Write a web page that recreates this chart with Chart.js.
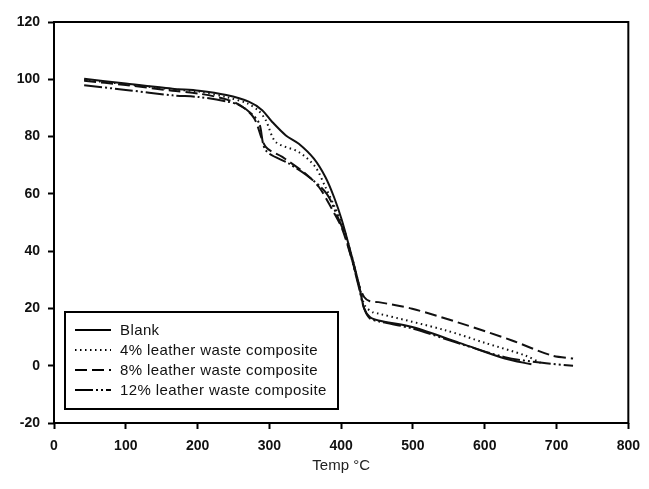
<!DOCTYPE html>
<html>
<head>
<meta charset="utf-8">
<script src="https://cdn.jsdelivr.net/npm/chart.js@4.4.0/dist/chart.umd.min.js"></script>
<style>
  html, body { margin: 0; padding: 0; background: #fff; }
  #wrap { width: 649px; height: 489px; }
</style>
</head>
<body>
<div id="wrap"><canvas id="myChart" width="649" height="489"></canvas></div>
<script>
// TGA curves (temperature in C, weight in %)
let blankT = [42, 100, 165, 202, 240, 272, 290, 304, 323, 341, 362, 378, 390, 401, 415, 425, 432, 440, 452, 499, 568, 628, 665];
let blankW = [100.2, 98.5, 96.7, 96, 94.5, 92.1, 89.2, 85.1, 80.4, 77.5, 72.3, 65.9, 58.9, 50.8, 38, 28, 20, 17, 15.8, 13.5, 7.7, 2.5, 0.5];

let lw4T = [42, 100, 165, 202, 240, 270, 285, 295, 309, 341, 364, 378, 390, 401, 415, 425, 433, 445, 452, 545, 600, 656, 678];
let lw4W = [99.8, 98.3, 96.5, 95.7, 93.8, 91.5, 89, 85.7, 78.1, 74.6, 69.4, 62.4, 56, 50, 38, 28, 21, 18.5, 18.2, 12.4, 8, 3.6, 1];

let lw8T = [42, 100, 165, 202, 240, 262, 279, 295, 318, 350, 369, 388, 401, 415, 425, 432, 440, 452, 499, 568, 637, 693, 723];
let lw8W = [99.5, 98, 96, 95, 93, 90.5, 86.3, 76.4, 72.9, 67.1, 62.4, 54.3, 48, 37, 28, 24, 22.5, 22.2, 19.9, 14.7, 8.9, 3.6, 2.5];

let lw12T = [42, 100, 165, 202, 240, 258, 275, 286, 295, 327, 355, 380, 395, 405, 415, 425, 432, 440, 452, 499, 568, 628, 680, 723];
let lw12W = [97.9, 96.3, 94.4, 93.8, 92.3, 91, 88, 84.5, 75.2, 70.6, 65.9, 60, 52, 46, 37, 27, 20, 16.5, 15.5, 13, 7.5, 3, 1, 0];

let seriesNames = ["Blank", "4% leather waste composite", "8% leather waste composite", "12% leather waste composite"];
let xTicks = [0, 100, 200, 300, 400, 500, 600, 700, 800];
let yTicks = [-20, 0, 20, 40, 60, 80, 100, 120];

function pts(t, w) {
    return t.map(function (v, i) { return {x: v, y: w[i]}; });
}

var dashes = [[], [1.5, 3.5], [12, 5], [18, 3, 2, 3, 2, 3]];
var tickFont = {family: "'Liberation Sans', Arial, sans-serif", size: 14, weight: "bold"};

var datasets = [pts(blankT, blankW), pts(lw4T, lw4W), pts(lw8T, lw8W), pts(lw12T, lw12W)].map(function (d, i) {
    return {
        label: seriesNames[i],
        data: d,
        borderColor: "#111",
        borderWidth: 2,
        borderDash: dashes[i],
        pointRadius: 0,
        tension: 0.3,
        fill: false
    };
});

// box round the plot and the legend inside it
var framePlugin = {
    id: "frame",
    afterDraw: function (chart) {
        var ctx = chart.ctx, a = chart.chartArea;
        ctx.save();
        ctx.strokeStyle = "#000";
        ctx.lineWidth = 2;
        ctx.setLineDash([]);
        ctx.strokeRect(a.left, a.top, a.right - a.left, a.bottom - a.top);

        // legend
        var bx = 65, by = 312, bw = 273, bh = 97;
        ctx.strokeRect(bx, by, bw, bh);
        ctx.font = "15px 'Liberation Sans', Arial, sans-serif";
        ctx.letterSpacing = "0.4px";
        ctx.fillStyle = "#111";
        ctx.textBaseline = "middle";
        chart.data.datasets.forEach(function (ds, i) {
            var y = 330 + i * 20;
            ctx.beginPath();
            ctx.lineWidth = 2;
            ctx.setLineDash(ds.borderDash);
            ctx.moveTo(75, y);
            ctx.lineTo(111, y);
            ctx.stroke();
            ctx.setLineDash([]);
            ctx.fillText(ds.label, 120, y + 1);
        });
        ctx.restore();
    }
};

new Chart("myChart", {
    type: "line",
    data: {datasets: datasets},
    plugins: [framePlugin],
    options: {
        responsive: false,
        animation: false,
        layout: {padding: {left: 0, right: 19, top: 22, bottom: 0}},
        plugins: {legend: {display: false}, tooltip: {enabled: false}},
        scales: {
            x: {
                type: "linear",
                min: 0,
                max: 800,
                afterBuildTicks: function (s) { s.ticks = xTicks.map(function (v) { return {value: v}; }); },
                afterFit: function (s) { s.height = 66; },
                border: {display: false},
                grid: {drawOnChartArea: false, drawTicks: true, tickLength: 6, tickColor: "#000", tickWidth: 2},
                ticks: {color: "#111", font: tickFont, padding: 9, maxRotation: 0},
                title: {display: true, text: "Temp °C", color: "#222",
                    font: {family: "'Liberation Sans', Arial, sans-serif", size: 15}, padding: {top: 4, bottom: 14}}
            },
            y: {
                min: -20,
                max: 120,
                afterBuildTicks: function (s) { s.ticks = yTicks.map(function (v) { return {value: v}; }); },
                afterFit: function (s) { s.width = 54; },
                border: {display: false},
                grid: {drawOnChartArea: false, drawTicks: true, tickLength: 6, tickColor: "#000", tickWidth: 2},
                ticks: {color: "#111", font: tickFont, padding: 8}
            }
        }
    }
});
</script>
</body>
</html>
